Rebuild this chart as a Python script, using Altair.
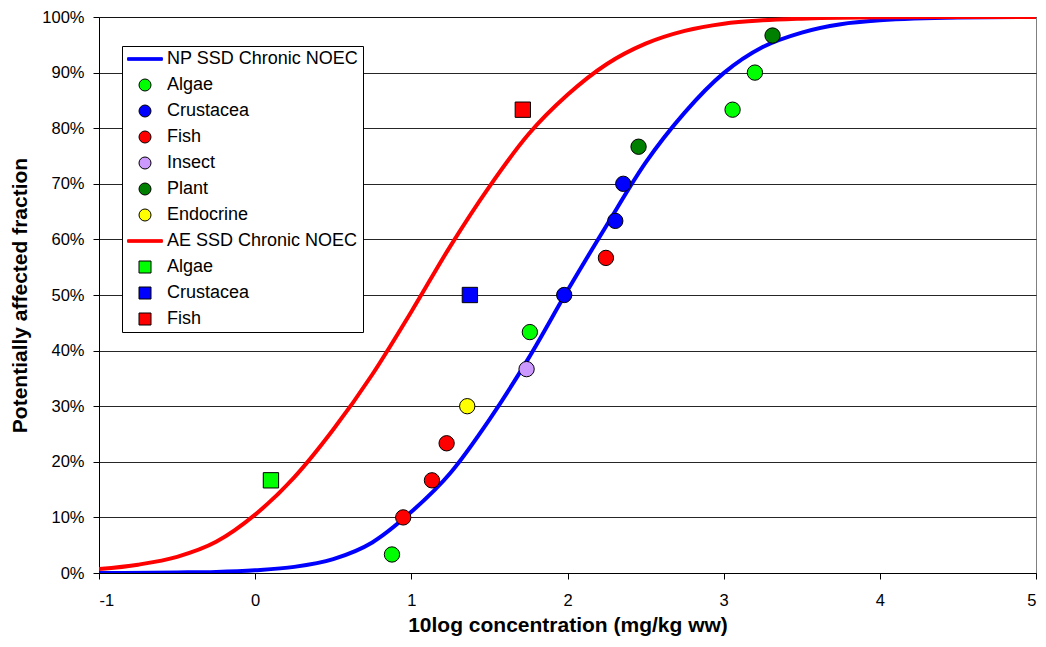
import altair as alt
import pandas as pd

# ---- legend / series keys ----
series_keys = [
    "NP SSD Chronic NOEC", "NP Algae", "NP Crustacea", "NP Fish", "NP Insect",
    "NP Plant", "NP Endocrine", "AE SSD Chronic NOEC", "AE Algae", "AE Crustacea", "AE Fish",
]
fill_colors = ["#0000FF", "#00FF00", "#0000FF", "#FF0000", "#CC99FF", "#008000", "#FFFF00",
               "#FF0000", "#00FF00", "#0000FF", "#FF0000"]
stroke_colors = ["#0000FF", "#000000", "#000000", "#000000", "#000000", "#000000", "#000000",
                 "#FF0000", "#000000", "#000000", "#000000"]
LINE_SYMBOL = "M-2.9,-0.22H2.9V0.22H-2.9Z"
shape_list = [LINE_SYMBOL, "circle", "circle", "circle", "circle", "circle", "circle",
              LINE_SYMBOL, "square", "square", "square"]

# ---- SSD curves ----
np_curve_x = [-1.0, -0.5, -0.25, 0.0, 0.25, 0.5, 0.75, 1.0, 1.25, 1.5, 1.75, 2.0, 2.25,
              2.5, 2.75, 3.0, 3.25, 3.5, 3.75, 4.0, 4.5, 5.0]
np_curve_y = [0.0, 0.1, 0.2, 0.5, 1.1, 2.5, 5.5, 11.0, 18.0, 27.6, 38.6, 50.8, 62.5,
              73.8, 82.8, 89.9, 94.6, 97.2, 98.7, 99.4, 99.9, 100.0]
ae_curve_x = [-1.0, -0.75, -0.5, -0.25, 0.0, 0.25, 0.5, 0.75, 1.0, 1.25, 1.5, 1.75,
              2.0, 2.25, 2.5, 2.75, 3.0, 3.25, 3.5, 4.0, 5.0]
ae_curve_y = [0.7, 1.5, 2.9, 5.6, 10.5, 17.2, 25.8, 35.7, 47.0, 58.8, 69.5, 78.9,
              86.0, 91.5, 95.2, 97.5, 98.8, 99.4, 99.7, 99.95, 100.0]

# ---- NP species points ----
np_algae_x = [0.876, 1.759, 3.057, 3.2]
np_algae_y = [3.33, 43.33, 83.33, 90.0]
np_crustacea_x = [1.979, 2.306, 2.357]
np_crustacea_y = [50.0, 63.33, 70.0]
np_fish_x = [0.948, 1.132, 1.226, 2.246]
np_fish_y = [10.0, 16.67, 23.33, 56.67]
np_insect_x = [1.738]
np_insect_y = [36.67]
np_plant_x = [2.455, 3.313]
np_plant_y = [76.67, 96.67]
np_endocrine_x = [1.358]
np_endocrine_y = [30.0]

# ---- AE species points ----
ae_algae_x = [0.101]
ae_algae_y = [16.67]
ae_crustacea_x = [1.375]
ae_crustacea_y = [50.0]
ae_fish_x = [1.714]
ae_fish_y = [83.33]

x_ticks = [-1, 0, 1, 2, 3, 4, 5]
y_ticks = [0, 10, 20, 30, 40, 50, 60, 70, 80, 90, 100]

# ---- tables ----
np_curve = pd.DataFrame({"x": np_curve_x, "y": np_curve_y})
ae_curve = pd.DataFrame({"x": ae_curve_x, "y": ae_curve_y})

pts = []
for key, xs, ys in [
    ("NP Algae", np_algae_x, np_algae_y),
    ("NP Crustacea", np_crustacea_x, np_crustacea_y),
    ("NP Fish", np_fish_x, np_fish_y),
    ("NP Insect", np_insect_x, np_insect_y),
    ("NP Plant", np_plant_x, np_plant_y),
    ("NP Endocrine", np_endocrine_x, np_endocrine_y),
    ("AE Algae", ae_algae_x, ae_algae_y),
    ("AE Crustacea", ae_crustacea_x, ae_crustacea_y),
    ("AE Fish", ae_fish_x, ae_fish_y),
]:
    for xv, yv in zip(xs, ys):
        pts.append({"x": xv, "y": yv, "series": key})
points_df = pd.DataFrame(pts)

FONT = "Liberation Sans"

x_enc = alt.X("x:Q", scale=alt.Scale(domain=[-1, 5], nice=False, zero=False),
              axis=alt.Axis(values=x_ticks, grid=False, title="10log concentration (mg/kg ww)",
                            tickSize=6, labelPadding=13, titlePadding=6,
                            labelExpr="'' + datum.value"))
y_enc = alt.Y("y:Q", scale=alt.Scale(domain=[0, 100], nice=False),
              axis=alt.Axis(values=y_ticks, grid=True, title="Potentially affected fraction",
                            labelExpr="datum.value + '%'", tickSize=6, labelPadding=9,
                            titlePadding=11))

stroke_scale = alt.Scale(domain=series_keys, range=stroke_colors)
fill_scale = alt.Scale(domain=series_keys, range=fill_colors)
shape_scale = alt.Scale(domain=series_keys, range=shape_list)

legend = alt.Legend(
    orient="none", legendX=23, legendY=29, title=None,
    labelExpr="indexof(datum.label, 'SSD') >= 0 ? datum.label : substring(datum.label, 3)",
    labelFont=FONT, labelFontSize=18, labelColor="#000000", labelLimit=400,
    symbolSize=144, symbolStrokeWidth=1, symbolOffset=10, labelOffset=13,
    padding=4, rowPadding=8, strokeColor="#000000", fillColor="#FFFFFF",
    cornerRadius=0, labelBaseline="middle",
)

np_line = alt.Chart(np_curve).mark_line(
    strokeWidth=4, interpolate="monotone", clip=True, color="#0000FF"
).encode(x=x_enc, y=y_enc)
ae_line = alt.Chart(ae_curve).mark_line(
    strokeWidth=4, interpolate="monotone", clip=True, color="#FF0000"
).encode(x=x_enc, y=y_enc)
points = alt.Chart(points_df).mark_point(filled=True, size=235, strokeWidth=1, opacity=1).encode(
    x=x_enc, y=y_enc,
    fill=alt.Fill("series:N", scale=fill_scale, legend=legend),
    stroke=alt.Stroke("series:N", scale=stroke_scale, legend=legend),
    shape=alt.Shape("series:N", scale=shape_scale, legend=legend),
)

chart = alt.layer(np_line, ae_line, points).properties(
    width=937, height=556,
    autosize=alt.AutoSizeParams(type="none"),
    padding={"left": 99, "top": 17, "right": 10, "bottom": 74},
    background="#FFFFFF",
).configure_view(
    stroke="#808080", strokeWidth=1,
).configure_axis(
    domainColor="#000000", domainWidth=1, tickColor="#000000", tickWidth=1,
    gridColor="#000000", gridWidth=1, gridOpacity=0.85,
    labelFont=FONT, labelFontSize=16.5, labelColor="#000000",
    titleFont=FONT, titleFontSize=21, titleFontWeight="bold", titleColor="#000000",
)

chart.save("out.html", embed_options={"renderer": "svg", "actions": False})
